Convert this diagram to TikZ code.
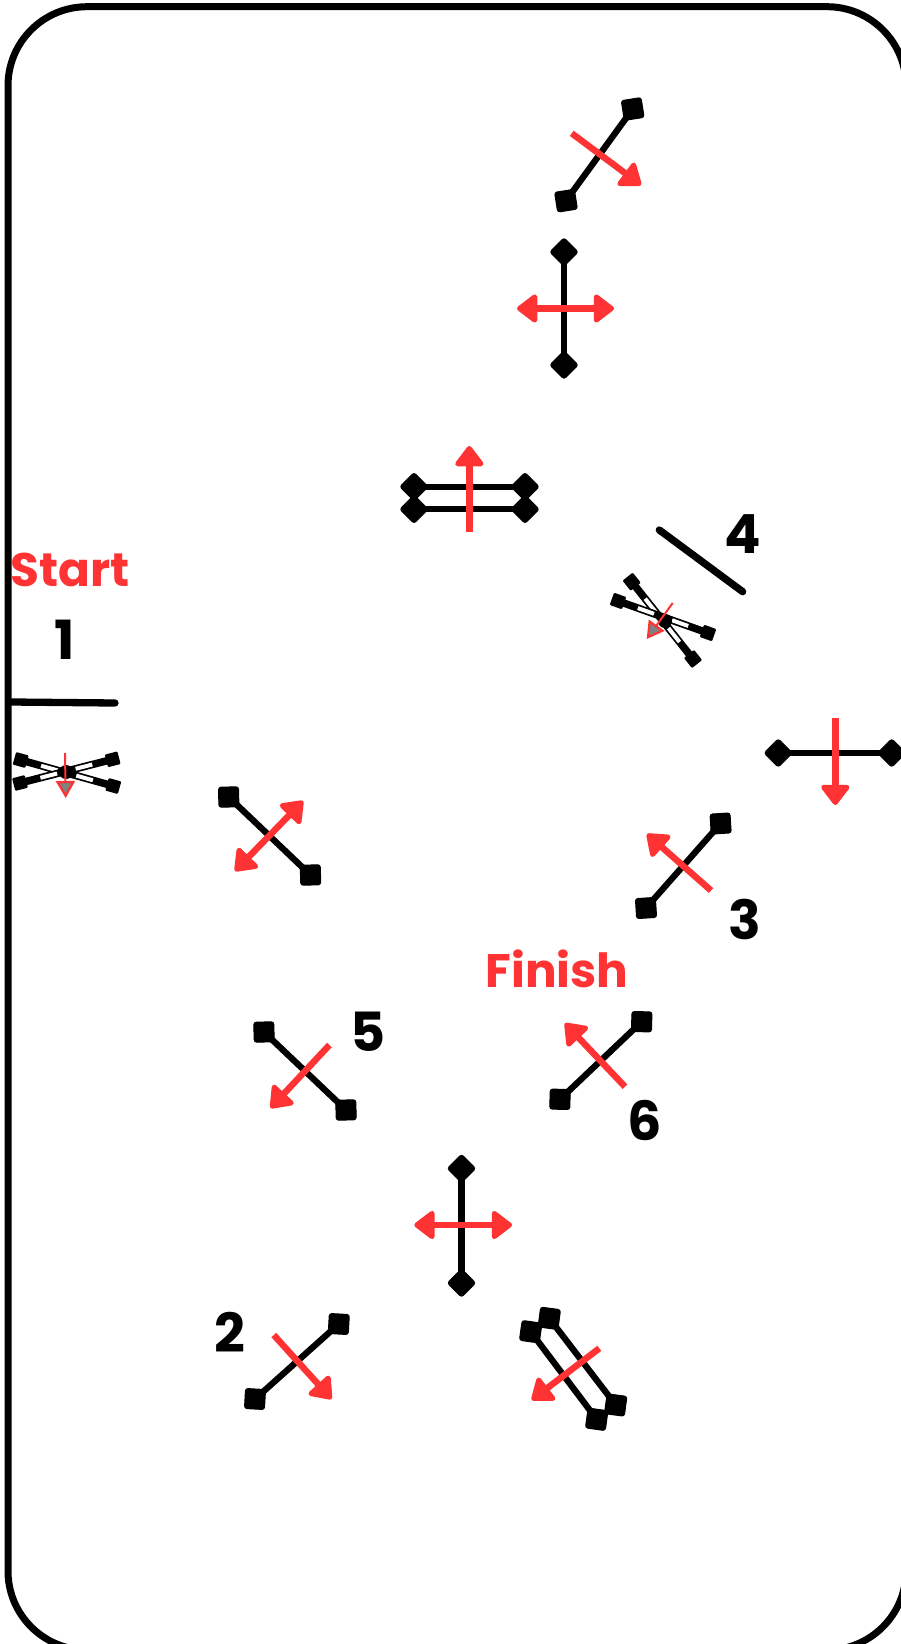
\documentclass[tikz,border=0pt]{standalone}
\usepackage{fontspec}
\setmainfont{Poppins}[BoldFont={Poppins Bold}]
\usetikzlibrary{arrows.meta,calc}
\definecolor{redmark}{HTML}{FF3333}
\tikzset{
  endsq/.style={fill=black,draw=black,line width=1pt,minimum size=20pt,inner sep=0pt,outer sep=0pt,rounded corners=2.5pt},
  smallsq/.style={fill=black,minimum size=13pt,inner sep=0pt,outer sep=0pt,rounded corners=1pt},
  hub/.style={fill=black,minimum size=14pt,inner sep=0pt,outer sep=0pt,circle},
  stickline/.style={draw=black,line width=6.3pt},
  thickbar/.style={draw=black,line width=7.3pt,line cap=round},
  armline/.style={draw=black,line width=7.5pt},
  armgap/.style={draw=white,line width=4pt},
  redone/.style={draw=redmark,line width=6.5pt,-{Triangle[round,length=22pt,width=32pt,line width=5pt]}},
  redtwo/.style={draw=redmark,line width=6.5pt,{Triangle[round,length=22pt,width=32pt,line width=5pt]}-{Triangle[round,length=22pt,width=32pt,line width=5pt]}},
  redthin/.style={draw=redmark,line width=2pt,-{Triangle[length=17pt,width=19pt,line width=2.2pt,fill=gray]}},
  redlabel/.style={text=redmark,font=\bfseries\fontsize{47}{50}\selectfont,inner sep=0pt},
  numlabel/.style={text=black,font=\bfseries\fontsize{54}{56}\selectfont,inner sep=0pt},
  frameline/.style={draw=black,line width=7pt,rounded corners=79pt},
}
\newcommand\tipstick[5]{%
  \pgfmathsetmacro\stickang{atan2(#3-(#5),#4-(#2))+45}%
  \node[endsq,rotate=\stickang] (#1a) at (#2,#3) {};
  \node[endsq,rotate=\stickang] (#1b) at (#4,#5) {};
  \draw[stickline] (#1a.center) -- (#1b.center);
}
\newcommand\redline[6]{%
  \coordinate (#1s) at (#3,#4);
  \coordinate (#1t) at (#5,#6);
  \draw[#2] (#1s) -- (#1t);
}
\newcommand\xarm[5]{%
  \pgfmathsetmacro\stickang{atan2(#3-(#5),#4-(#2))}%
  \node[smallsq,rotate=\stickang] (#1a) at (#2,#3) {};
  \node[smallsq,rotate=\stickang] (#1b) at (#4,#5) {};
  \draw[armline] (#1a.center) -- (#1b.center);
  \draw[armgap] ($(#1a.center)!0.22!(#1b.center)$) -- ($(#1a.center)!0.40!(#1b.center)$);
  \draw[armgap] ($(#1a.center)!0.60!(#1b.center)$) -- ($(#1a.center)!0.78!(#1b.center)$);
}
\begin{document}
\begin{tikzpicture}[x=1pt,y=-1pt]
\useasboundingbox (0,0) rectangle (901,1644);
\clip (0,0) rectangle (901,1644);
\fill[white] (0,0) rectangle (901,1644);
\draw[frameline] (8,6.7) rectangle (906,1650);

% top stick
\tipstick{A}{632.7}{109}{566}{200.7}
\redline{Ar}{redone}{571.7}{133.3}{641}{185}
% diamond vertical
\tipstick{B}{564}{252}{564}{365}
\redline{Br}{redtwo}{517}{308.5}{614}{308.5}
% double horizontal
\tipstick{Ca}{414}{486.7}{525}{486.7}
\tipstick{Cb}{414}{509.3}{525}{509.3}
\redline{Cr}{redone}{469.3}{531.7}{469.3}{446}
% bar 4 and X
\coordinate (bar4a) at (659.3,530);
\coordinate (bar4b) at (742.7,591.7);
\draw[thickbar] (bar4a) -- (bar4b);
\node[numlabel] (n4) at (743,534) {4};
\xarm{Xa}{631.7}{581.7}{693}{659}
\xarm{Xb}{618}{601}{708}{633}
\node[hub] (Xh) at (665,621) {};
\redline{Xr}{redthin}{672.7}{603}{646.7}{639}
% Start
\node[redlabel] (start) at (70,570) {Start};
\node[numlabel] (n1) at (64.3,639.3) {1};
\coordinate (bar1a) at (12,702);
\coordinate (bar1b) at (115,703);
\draw[thickbar] (bar1a) -- (bar1b);
\xarm{Ya}{20.7}{760}{113.3}{786}
\xarm{Yb}{20}{783}{112.7}{759.3}
\node[hub] (Yh) at (66,772) {};
\redline{Yr}{redthin}{65}{753}{65.7}{798}
% right diamond
\tipstick{D}{778.3}{753}{891.7}{753}
\redline{Dr}{redone}{835.3}{718}{835.3}{805}
% 3
\tipstick{E}{720.6}{823.5}{646}{908}
\redline{Er}{redone}{711}{890.5}{647}{834}
\node[numlabel] (n3) at (745,919) {3};
% left double-headed
\tipstick{F}{228.7}{797}{310.5}{875}
\redline{Fr}{redtwo}{235}{871}{303}{801}
% Finish, 6
\node[redlabel] (finish) at (557,969) {Finish};
\tipstick{H}{641.7}{1021.7}{560}{1099.3}
\redline{Hr}{redone}{625}{1086.7}{565}{1023.3}
\node[numlabel] (n6) at (645,1120.7) {6};
% 5
\tipstick{G}{264}{1032}{346}{1110}
\redline{Gr}{redone}{329.4}{1045}{270.6}{1108}
\node[numlabel] (n5) at (368,1032) {5};
% lower diamond
\tipstick{I}{461.5}{1168.5}{461.5}{1283}
\redline{Ir}{redtwo}{414.3}{1225}{512}{1225}
% 2
\tipstick{J}{338.8}{1324}{255}{1399}
\redline{Jr}{redone}{273.8}{1335}{331.5}{1399}
\node[numlabel] (n2) at (230,1332) {2};
% double diagonal
\tipstick{Ka}{530.7}{1331.7}{596.7}{1419.3}
\tipstick{Kb}{549.3}{1318.3}{615.7}{1405}
\redline{Kr}{redone}{599.3}{1348.3}{531.7}{1400}
\end{tikzpicture}
\end{document}
